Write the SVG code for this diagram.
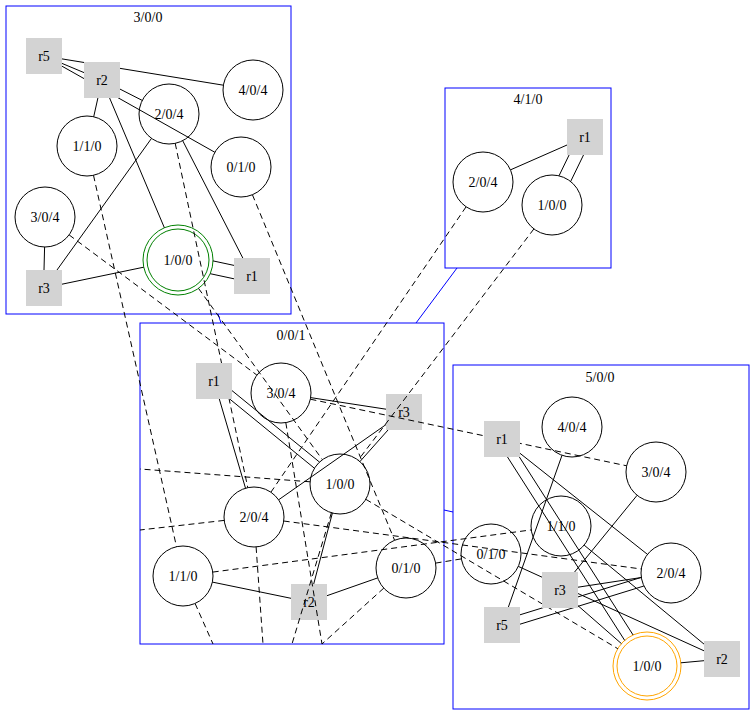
<svg xmlns="http://www.w3.org/2000/svg" width="755" height="720" viewBox="0 0 755 720">
<style>
text{font-family:"Liberation Serif","Times New Roman",serif;font-size:14px;text-anchor:middle;fill:#000}
.cl{fill:none;stroke:#0000ff;stroke-width:1}
.n{fill:#fff;stroke:#000;stroke-width:1}
.b{fill:#d3d3d3;stroke:none}
.e{stroke:#000;stroke-width:1;fill:none}
.d{stroke:#000;stroke-width:1;fill:none;stroke-dasharray:6,4}
.c{stroke:#0000ff;stroke-width:1;fill:none}
</style>
<rect width="755" height="720" fill="#fff"/>
<g id="clusters">
<g id="cluster_300"><rect class="cl" x="6" y="6" width="285" height="308"/><text x="148" y="22">3/0/0</text></g>
<g id="cluster_410"><rect class="cl" x="445" y="88" width="166" height="180"/><text x="528" y="104">4/1/0</text></g>
<g id="cluster_001"><rect class="cl" x="140" y="323" width="304" height="321"/><text x="291" y="340">0/0/1</text></g>
<g id="cluster_500"><rect class="cl" x="453" y="365" width="296" height="344"/><text x="600" y="382">5/0/0</text></g>
</g>
<g id="nodes">
<!-- 3/0/0 -->
<g id="c300_r5"><rect class="b" x="26" y="38" width="36" height="36"/><text x="44" y="61">r5</text></g>
<g id="c300_404"><circle class="n" cx="253" cy="90" r="30"/><text x="253" y="95">4/0/4</text></g>
<g id="c300_204"><circle class="n" cx="169" cy="114" r="30"/><text x="169" y="119">2/0/4</text></g>
<g id="c300_110"><circle class="n" cx="87" cy="146" r="30"/><text x="87" y="151">1/1/0</text></g>
<g id="c300_010"><circle class="n" cx="241" cy="167" r="30"/><text x="241" y="172">0/1/0</text></g>
<g id="c300_304"><circle class="n" cx="45" cy="217" r="30"/><text x="45" y="222">3/0/4</text></g>
<g id="c300_100"><circle cx="178" cy="260" r="35" fill="#fff" stroke="#008000"/><circle cx="178" cy="260" r="31" fill="none" stroke="#008000"/><text x="178" y="265">1/0/0</text></g>
<g id="c300_r1"><rect class="b" x="234" y="258" width="36" height="36"/><text x="252" y="281">r1</text></g>
<g id="c300_r3"><rect class="b" x="26" y="270" width="36" height="36"/><text x="44" y="293">r3</text></g>
<!-- 4/1/0 -->
<g id="c410_r1"><rect class="b" x="567" y="119" width="36" height="36"/><text x="585" y="142">r1</text></g>
<g id="c410_204"><circle class="n" cx="483" cy="182" r="30"/><text x="483" y="187">2/0/4</text></g>
<g id="c410_100"><circle class="n" cx="552" cy="205" r="30"/><text x="552" y="210">1/0/0</text></g>
<!-- 0/0/1 -->
<g id="c001_304"><circle class="n" cx="281" cy="393" r="30"/><text x="281" y="398">3/0/4</text></g>
<g id="c001_r3"><rect class="b" x="386" y="394" width="36" height="36"/><text x="404" y="417">r3</text></g>
<g id="c001_100"><circle class="n" cx="340" cy="484" r="30"/><text x="340" y="489">1/0/0</text></g>
<g id="c001_204"><circle class="n" cx="254" cy="517" r="30"/><text x="254" y="522">2/0/4</text></g>
<g id="c001_110"><circle class="n" cx="183" cy="576" r="30"/><text x="183" y="581">1/1/0</text></g>
<g id="c001_r2"><rect class="b" x="291" y="584" width="36" height="36"/><text x="309" y="607">r2</text></g>
<g id="c001_010"><circle class="n" cx="406" cy="568" r="30"/><text x="406" y="573">0/1/0</text></g>
<!-- 5/0/0 -->
<g id="c500_404"><circle class="n" cx="572" cy="427" r="30"/><text x="572" y="432">4/0/4</text></g>
<g id="c500_304"><circle class="n" cx="656" cy="472" r="30"/><text x="656" y="477">3/0/4</text></g>
<g id="c500_110"><circle class="n" cx="561" cy="526" r="30"/><text x="561" y="531">1/1/0</text></g>
<g id="c500_010"><circle class="n" cx="491" cy="554" r="30"/><text x="491" y="559">0/1/0</text></g>
<g id="c500_204"><circle class="n" cx="671" cy="573" r="30"/><text x="671" y="578">2/0/4</text></g>
<g id="c500_r5"><rect class="b" x="484" y="607" width="36" height="36"/><text x="502" y="630">r5</text></g>
<g id="c500_100"><circle cx="647" cy="666" r="34" fill="#fff" stroke="#ffa500"/><circle cx="647" cy="666" r="30" fill="none" stroke="#ffa500"/><text x="647" y="671">1/0/0</text></g>
<g id="c500_r2"><rect class="b" x="704" y="641" width="36" height="36"/><text x="722" y="664">r2</text></g>
</g>
<g id="connectors">
<!-- cluster links -->
<line class="c" x1="218" y1="314" x2="221" y2="323"/>
<line class="c" x1="457" y1="268" x2="416" y2="323"/>
<line class="c" x1="444" y1="510" x2="453" y2="512"/>
<!-- 3/0/0 -->
<line class="e" x1="62" y1="58.9" x2="223.4" y2="85.2"/>
<line class="e" x1="62" y1="63.4" x2="84" y2="72.6"/>
<line class="e" x1="62" y1="66.2" x2="214.9" y2="152.3"/>
<line class="e" x1="120" y1="89.1" x2="142.2" y2="100.4"/>
<line class="e" x1="97.9" y1="98" x2="93.7" y2="116.8"/>
<line class="e" x1="109.6" y1="98" x2="164.4" y2="227.8"/>
<line class="e" x1="151.5" y1="138.4" x2="57" y2="270"/>
<line class="e" x1="182.7" y1="140.7" x2="242.8" y2="258"/>
<line class="e" x1="44.6" y1="247" x2="44" y2="270"/>
<line class="e" x1="62" y1="284.2" x2="143.7" y2="267.2"/>
<line class="e" x1="210.2" y1="273.7" x2="234" y2="278.8"/>
<line class="e" x1="213" y1="260.9" x2="234" y2="265.4"/>
<!-- 4/1/0 -->
<line class="e" x1="567" y1="145" x2="510.4" y2="169.9"/>
<line class="e" x1="569.1" y1="155" x2="559" y2="175.8"/>
<line class="e" x1="583.5" y1="155" x2="570.7" y2="181.4"/>
<!-- 0/0/1 -->
<line class="e" x1="219.3" y1="399" x2="245.5" y2="488.2"/>
<line class="e" x1="229.7" y1="399" x2="314.5" y2="468.3"/>
<line class="e" x1="232" y1="390.6" x2="319.5" y2="462.1"/>
<line class="e" x1="310.6" y1="397.6" x2="386" y2="409.2"/>
<line class="e" x1="386" y1="424.6" x2="278.6" y2="499.8"/>
<line class="e" x1="388" y1="430" x2="359.9" y2="461.6"/>
<line class="e" x1="332.4" y1="513" x2="313.7" y2="584"/>
<line class="e" x1="212.4" y1="582.1" x2="291" y2="598.3"/>
<line class="e" x1="327" y1="595.7" x2="377.7" y2="577.9"/>
<!-- 5/0/0 -->
<line class="e" x1="507.5" y1="457" x2="624.7" y2="640.4"/>
<line class="e" x1="519.4" y1="457" x2="633.1" y2="635"/>
<line class="e" x1="520" y1="453.3" x2="647.5" y2="554.4"/>
<line class="e" x1="562" y1="455.3" x2="508.4" y2="607"/>
<line class="e" x1="637.1" y1="495.3" x2="574.6" y2="572"/>
<line class="e" x1="578" y1="587.2" x2="641.4" y2="577.5"/>
<line class="e" x1="520" y1="624.2" x2="643.9" y2="586"/>
<line class="e" x1="520" y1="614.8" x2="641.3" y2="577.4"/>
<line class="e" x1="578" y1="605.7" x2="621.4" y2="643.6"/>
<line class="e" x1="518.3" y1="566.4" x2="704" y2="650.8"/>
<line class="e" x1="584.1" y1="545.1" x2="704" y2="644.1"/>
<line class="e" x1="680.9" y1="662.8" x2="704" y2="660.7"/>
<!-- inter-cluster dashed -->
<line class="d" x1="93.5" y1="175.3" x2="176.5" y2="546.7"/>
<line class="d" x1="175.2" y1="143.3" x2="247.8" y2="487.7"/>
<line class="d" x1="69.1" y1="234.9" x2="256.9" y2="375.1"/>
<line class="d" x1="252.4" y1="194.7" x2="394.6" y2="540.3"/>
<line class="d" x1="198.5" y1="288.4" x2="322.4" y2="459.7"/>
<line class="d" x1="466.1" y1="206.8" x2="270.9" y2="492.2"/>
<line class="d" x1="533.9" y1="228.9" x2="358.2" y2="460.1"/>
<line class="d" x1="310.4" y1="399.2" x2="626.6" y2="465.8"/>
<line class="d" x1="283.7" y1="521" x2="641.3" y2="569"/>
<line class="d" x1="212.7" y1="572.1" x2="531.3" y2="529.9"/>
<line class="d" x1="365.8" y1="499.3" x2="617.8" y2="648.7"/>
<line class="d" x1="435.6" y1="563.1" x2="461.4" y2="558.9"/>
<line class="d" x1="310.1" y1="481.8" x2="140" y2="469"/>
<line class="d" x1="224.2" y1="520.4" x2="140" y2="530"/>
<line class="d" x1="195.1" y1="603.5" x2="213" y2="644"/>
<line class="d" x1="256.1" y1="546.9" x2="263" y2="644"/>
<line class="d" x1="331.4" y1="512.7" x2="292" y2="644"/>
<line class="d" x1="285.8" y1="422.6" x2="322" y2="644"/>
<line class="d" x1="383.8" y1="588.1" x2="322" y2="644"/>
</g>
<g id="nodes-top">
<g id="c300_r2"><rect class="b" x="84" y="62" width="36" height="36"/><text x="102" y="85">r2</text></g>
<g id="c001_r1"><rect class="b" x="196" y="363" width="36" height="36"/><text x="214" y="386">r1</text></g>
<g id="c500_r1"><rect class="b" x="484" y="421" width="36" height="36"/><text x="502" y="444">r1</text></g>
<g id="c500_r3"><rect class="b" x="542" y="572" width="36" height="36"/><text x="560" y="595">r3</text></g>
</g>
</svg>
